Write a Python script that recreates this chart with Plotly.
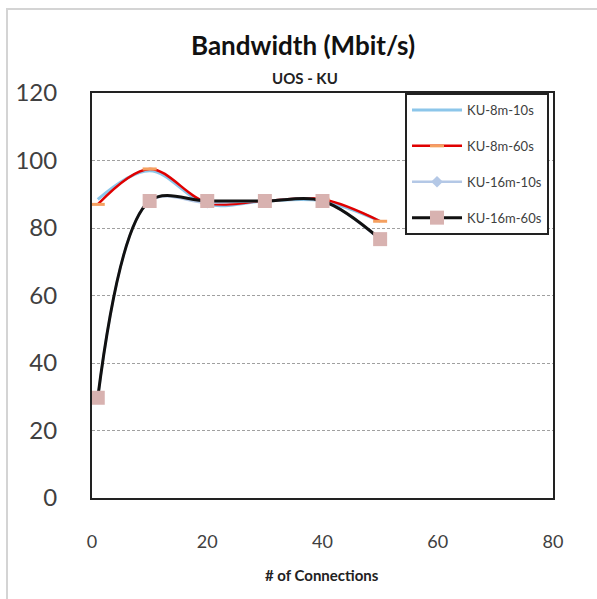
import plotly.graph_objects as go

# Number of connections tested
connections = [1, 10, 20, 30, 40, 50]

# Bandwidth in Mbit/s per configuration
ku_8m_10s = [88.5, 97.0, 87.0, 88.0, 88.0, 82.0]
ku_8m_60s = [87.0, 97.5, 87.5, 88.0, 88.5, 82.0]
ku_16m_10s = [29.5, 88.0, 87.5, 88.0, 88.0, 76.5]
ku_16m_60s = [29.7, 88.0, 88.0, 88.0, 88.0, 76.7]

x_ticks = [0, 20, 40, 60, 80]
y_ticks = [0, 20, 40, 60, 80, 100, 120]

FONT = "Lato"

fig = go.Figure()

fig.add_trace(go.Scatter(
    x=connections, y=ku_8m_10s, name="KU-8m-10s", legendgroup="a",
    mode="lines", line=dict(color="#8CC6EA", width=3, shape="spline", smoothing=1),
))
fig.add_trace(go.Scatter(
    x=connections, y=ku_8m_60s, name="KU-8m-60s", legendgroup="b",
    mode="lines+markers", line=dict(color="#E00000", width=2.5, shape="spline", smoothing=1),
    marker=dict(symbol="line-ew", size=10, color="#F5A060",
                line=dict(color="#F5A060", width=3)),
))
fig.add_trace(go.Scatter(
    x=connections, y=ku_16m_10s, name="KU-16m-10s", legendgroup="c",
    mode="lines+markers", line=dict(color="#B4C8E6", width=2.5, shape="spline", smoothing=1),
    marker=dict(symbol="diamond", size=9, color="#B4C8E6"),
))
fig.add_trace(go.Scatter(
    x=connections, y=ku_16m_60s, name="KU-16m-60s", legendgroup="d",
    mode="lines+markers", line=dict(color="#111111", width=3, shape="spline", smoothing=1),
    marker=dict(symbol="square", size=14, color="#D8B2B0"),
))

axis_common = dict(
    showline=True, linecolor="#222222", linewidth=2, mirror=True,
    ticks="", zeroline=False,
)

fig.update_xaxes(
    range=[0, 80], tickvals=x_ticks, showgrid=False,
    tickfont=dict(family=FONT, size=18, color="#404040"),
    ticklabelstandoff=26, **axis_common,
)
fig.update_yaxes(
    range=[0, 120], tickvals=y_ticks, showgrid=True,
    gridcolor="#A0A0A0", griddash="3px,2px", gridwidth=1,
    tickfont=dict(family=FONT, size=24, color="#404040"),
    ticklabelstandoff=28, **axis_common,
)

fig.update_layout(
    width=597, height=599,
    margin=dict(l=92, r=44, t=93, b=101),
    paper_bgcolor="white", plot_bgcolor="white",
    showlegend=True,
    legend=dict(
        x=0.679, y=1.0, xanchor="left", yanchor="top",
        bgcolor="white", bordercolor="#222222", borderwidth=2,
        font=dict(family=FONT, size=13, color="#404040"),
        traceorder="grouped", tracegroupgap=16, itemwidth=50,
    ),
    annotations=[
        dict(text="<b>Bandwidth (Mbit/s)</b>", xref="paper", yref="paper",
             x=(303 - 92) / 461, y=(498 - 45) / 405, xanchor="center", yanchor="middle",
             showarrow=False, font=dict(family=FONT, size=26, color="#111111")),
        dict(text="<b>UOS - KU</b>", xref="paper", yref="paper",
             x=(305 - 92) / 461, y=(498 - 78) / 405, xanchor="center", yanchor="middle",
             showarrow=False, font=dict(family=FONT, size=15, color="#222222")),
        dict(text="<b># of Connections</b>", xref="paper", yref="paper",
             x=(322 - 92) / 461, y=(498 - 575) / 405, xanchor="center", yanchor="middle",
             showarrow=False, font=dict(family=FONT, size=15, color="#222222")),
    ],
    shapes=[
        dict(type="rect", xref="paper", yref="paper",
             x0=(7 - 92) / 461, x1=(620 - 92) / 461,
             y0=(498 - 640) / 405, y1=(498 - 9) / 405,
             line=dict(color="#D4D4D4", width=2), layer="below"),
    ],
)

fig.write_html("out.html")
